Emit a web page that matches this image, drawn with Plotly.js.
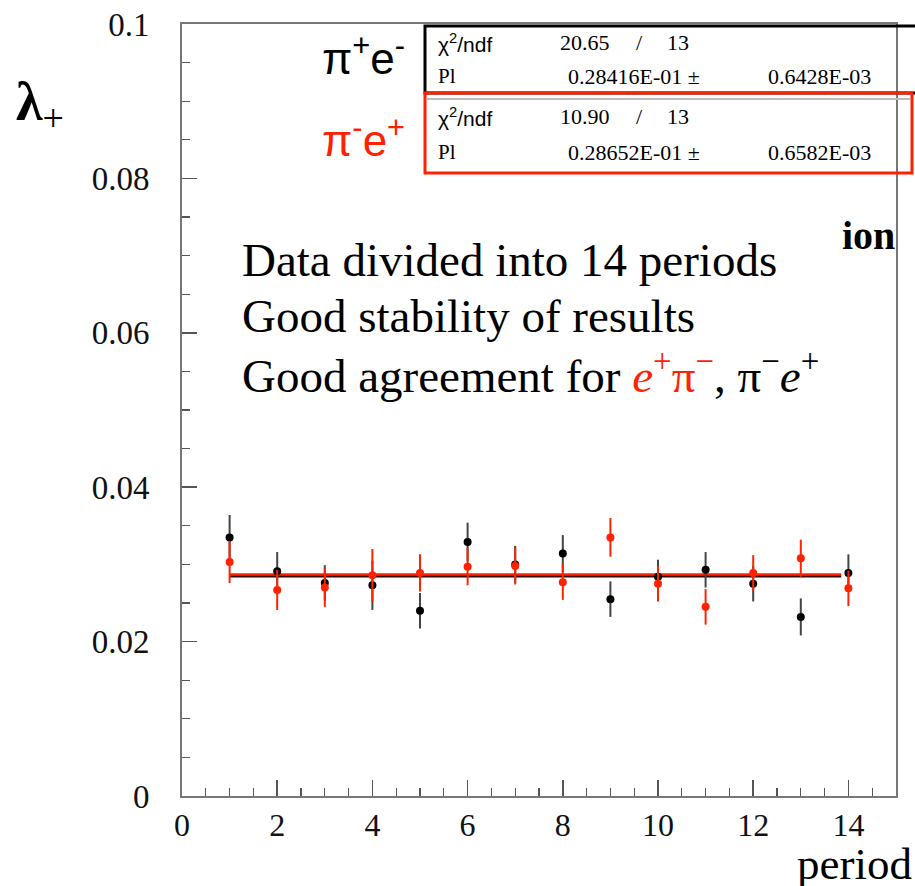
<!DOCTYPE html>
<html>
<head>
<meta charset="utf-8">
<script src="https://cdn.plot.ly/plotly-3.0.1.min.js"></script>
<style>html,body{margin:0;padding:0;background:#fff}#plot{width:915px;height:886px}</style>
</head>
<body>
<div id="plot"></div>
<script>
// ---- data ----
const periods = [1,2,3,4,5,6,7,8,9,10,11,12,13,14];
const piPlusEMinus = [0.0335,0.0291,0.0276,0.0273,0.0240,0.0329,0.0300,0.0314,0.0255,0.0284,0.0293,0.0275,0.0232,0.0289];
const piPlusEMinusErr = [0.0029,0.0025,0.0023,0.0032,0.0023,0.0025,0.0024,0.0024,0.0023,0.0022,0.0023,0.0023,0.0024,0.0024];
const piMinusEPlus = [0.0303,0.0267,0.0270,0.0286,0.0289,0.0297,0.0298,0.0277,0.0335,0.0275,0.0245,0.0289,0.0308,0.0269];
const piMinusEPlusErr = [0.0027,0.0026,0.0025,0.0034,0.0024,0.0024,0.0024,0.0023,0.0025,0.0023,0.0023,0.0023,0.0024,0.0023];
const fitRange = [1, 13.85];
const fitBlack = 0.028416;
const fitRed = 0.028652;
const xTickVals = [0,2,4,6,8,10,12,14];
const xTickText = ['0','2','4','6','8','10','12','14'];
const yTickVals = [0,0.02,0.04,0.06,0.08,0.1];
const yTickText = ['0','0.02','0.04','0.06','0.08','0.1'];

// ---- layout helpers (pixel -> paper) ----
const L = 182, R = 896, T = 24, B = 796;
const px = p => (p - L) / (R - L);
const py = p => (B - p) / (B - T);

const RED = '#ff2200';
const serif = 'Liberation Serif, Times New Roman, serif';
const sans = 'Liberation Sans, Arial, sans-serif';

const traces = [
  {x: fitRange, y: [fitRed, fitRed], mode: 'lines', line: {color: RED, width: 3}, hoverinfo: 'skip'},
  {x: fitRange, y: [fitBlack, fitBlack], mode: 'lines', line: {color: '#3a0000', width: 1.8}, hoverinfo: 'skip'},
  {x: periods, y: piPlusEMinus, mode: 'markers', marker: {color: '#000', size: 8},
   error_y: {type: 'data', array: piPlusEMinusErr, visible: true, color: '#444', thickness: 2, width: 0}},
  {x: periods, y: piMinusEPlus, mode: 'markers', marker: {color: RED, size: 8},
   error_y: {type: 'data', array: piMinusEPlusErr, visible: true, color: RED, thickness: 2, width: 0}}
];

function txt(text, x, y, size, opts) {
  return Object.assign({text: text, xref: 'paper', yref: 'paper', x: px(x), y: py(y),
    xanchor: 'left', yanchor: 'middle', showarrow: false,
    font: {family: serif, size: size, color: '#000'}}, opts || {});
}

const annotations = [
  // stat boxes
  txt('χ<sup>2</sup>/ndf', 436, 43, 21, {font: {family: sans, size: 21, color: '#000'}}),
  txt('20.65', 558, 43, 22),
  txt('/', 634, 43, 22),
  txt('13', 665, 43, 22),
  txt('Pl', 436, 76, 21),
  txt('0.28416E-01 ±', 566, 76, 22),
  txt('0.6428E-03', 766, 76, 22),
  txt('χ<sup>2</sup>/ndf', 436, 117, 21, {font: {family: sans, size: 21, color: '#000'}}),
  txt('10.90', 558, 117, 22),
  txt('/', 634, 117, 22),
  txt('13', 665, 117, 22),
  txt('Pl', 436, 152, 21),
  txt('0.28652E-01 ±', 566, 152, 22),
  txt('0.6582E-03', 766, 152, 22),
  // legend labels
  txt('π<sup>+</sup>e<sup>-</sup>', 320, 55, 44, {font: {family: sans, size: 44, color: '#000'}}),
  txt('π<sup>-</sup>e<sup>+</sup>', 320, 138, 44, {font: {family: sans, size: 44, color: RED}}),
  // y label
  txt('<b>λ</b><sub>+</sub>', 14, 105, 54),
  // hidden title fragment
  txt('<b>ion</b>', 897, 236, 40, {xanchor: 'right'}),
  // central text
  txt('Data divided into 14 periods', 240, 260, 47),
  txt('Good stability of results', 240, 316, 47),
  txt('Good agreement for <span style="color:' + RED + '"><i>e</i><sup>+</sup>π<sup>−</sup></span>, π<sup>−</sup><i>e</i><sup>+</sup>', 240, 372, 47),
  // x label
  txt('period', 914, 864, 45, {xanchor: 'right'})
];

const shapes = [
  {type: 'rect', xref: 'paper', yref: 'paper', x0: px(425), x1: px(930), y0: py(93), y1: py(26),
   line: {color: '#000', width: 3}, layer: 'above'},
  {type: 'line', xref: 'paper', yref: 'paper', x0: px(427), x1: px(910), y0: py(99), y1: py(99),
   line: {color: '#bbb', width: 2}, layer: 'above'},
  {type: 'rect', xref: 'paper', yref: 'paper', x0: px(425), x1: px(912), y0: py(173), y1: py(93),
   line: {color: RED, width: 3}, layer: 'above'}
];

const layout = {
  width: 915, height: 886,
  margin: {l: L, r: 915 - R, t: T, b: 886 - B, pad: 0},
  paper_bgcolor: '#fff', plot_bgcolor: '#fff',
  showlegend: false,
  xaxis: {
    range: [0, 15], tickvals: xTickVals, ticktext: xTickText,
    ticks: 'inside', ticklen: 16, tickwidth: 1.5, tickcolor: '#555',
    minor: {dtick: 0.5, ticks: 'inside', ticklen: 8, tickwidth: 1.2, tickcolor: '#555'},
    showline: true, linecolor: '#777', linewidth: 2, mirror: true,
    showgrid: false, zeroline: false,
    ticklabelstandoff: 0,
    tickfont: {family: serif, size: 32, color: '#111'}
  },
  yaxis: {
    range: [0, 0.1], tickvals: yTickVals, ticktext: yTickText,
    ticks: 'inside', ticklen: 15, tickwidth: 1.5, tickcolor: '#555',
    minor: {dtick: 0.005, ticks: 'inside', ticklen: 8, tickwidth: 1.2, tickcolor: '#555'},
    showline: true, linecolor: '#777', linewidth: 2, mirror: true,
    showgrid: false, zeroline: false,
    ticklabelstandoff: 24,
    tickfont: {family: serif, size: 33, color: '#111'}
  },
  annotations: annotations,
  shapes: shapes
};

Plotly.newPlot('plot', traces, layout, {displayModeBar: false, staticPlot: true});
</script>
</body>
</html>
